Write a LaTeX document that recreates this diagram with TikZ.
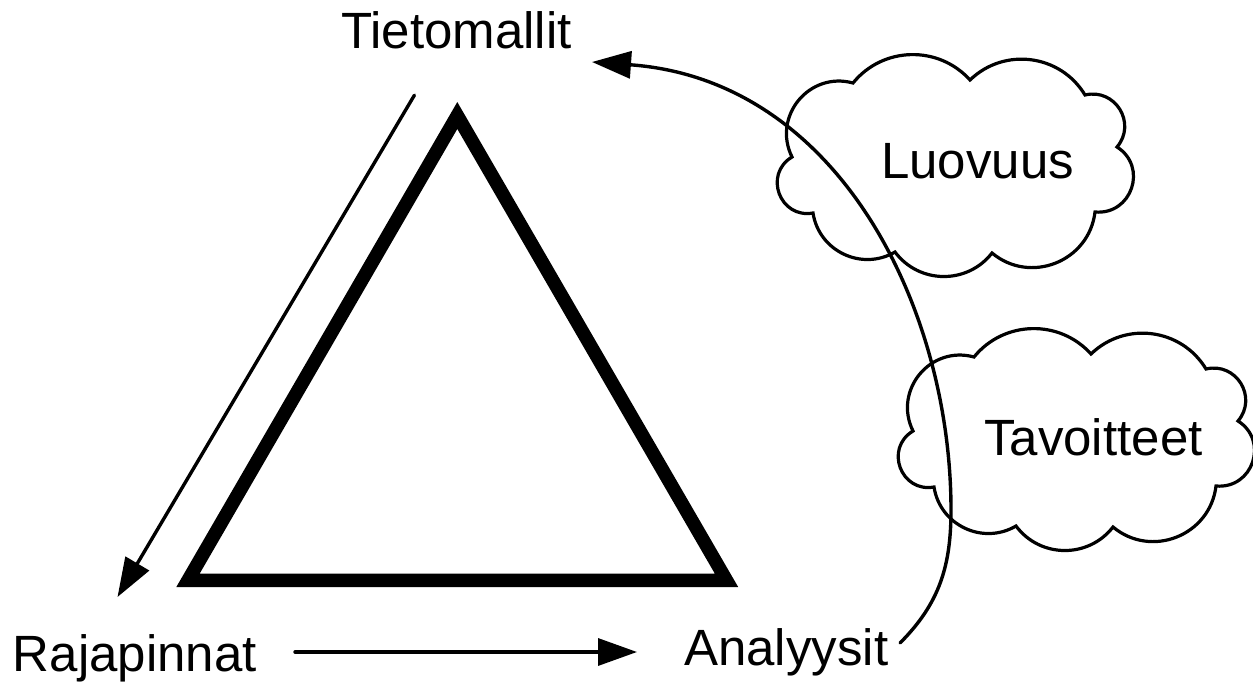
\documentclass[tikz,border=0pt]{standalone}
\usepackage{fontspec}
\setmainfont{Liberation Sans}
\usetikzlibrary{arrows.meta}

\tikzset{
  txt/.style={inner sep=0pt, anchor=base west, font=\fontsize{51}{60}\selectfont},
  thin arrow/.style={line width=3.4pt, line cap=round, -{Triangle[length=39pt,width=27pt]}},
  cloudline/.style={line width=3.2pt, fill=white, miter limit=10},
  bold triangle/.style={line width=13.5pt, miter limit=10},
  % a cloud outline of 357 x 225, drawn from its top left corner
  cloudshape/.pic={
    \draw[cloudline]
      (77,30)
      to[bend left=49.5, looseness=1.03] (194,27)
      to[bend left=51.5, looseness=1.05] (309,42)
      to[bend left=71.8, looseness=1.30] (341,94)
      to[bend left=76.3, looseness=1.38] (319,159)
      to[bend left=61.5, looseness=1.15] (216,200)
      to[bend left=52.7, looseness=1.06] (119,199)
      to[bend left=55.8, looseness=1.09] (37,160)
      to[bend left=79.6, looseness=1.44] (16,104)
      to[bend left=65.8, looseness=1.21] (77,30) -- cycle;
  }
}

\begin{document}
\begin{tikzpicture}[x=1pt, y=-1pt]
\useasboundingbox (0,0) rectangle (1253,685);

% the triangle
\draw[bold triangle] (457.3,115.5) -- (726.5,580.3) -- (188,580.3) -- cycle;

% the two clouds
\pic at (776,53) {cloudshape};
\pic at (897,327) {cloudshape};

% labels
\node[txt] (tietomallit) at (341,48.5) {Tietomallit};
\node[txt] (rajapinnat) at (12.7,671.7) {Rajapinnat};
\node[txt] (analyysit) at (684,665) {Analyysit};
\node[txt] (luovuus) at (881,178.5) {Luovuus};
\node[txt] (tavoitteet) at (984,455) {Tavoitteet};

% arrow ends
\coordinate (dStart) at (414.4,95.2);
\coordinate (dEnd) at (117.5,597);
\coordinate (hStart) at (295,652);
\coordinate (hEnd) at (637,652);
\coordinate (cStart) at (900,643);
\coordinate (cMid) at (951,510);
\coordinate (cEnd) at (592,62);

% arrows
\draw[thin arrow] (dStart) -- (dEnd);
\draw[thin arrow] (hStart) -- (hEnd);
\draw[thin arrow] (cStart) .. controls (940,603) and (951,565) .. (cMid)
  .. controls (951,310) and (840,80) .. (cEnd);
\end{tikzpicture}
\end{document}
